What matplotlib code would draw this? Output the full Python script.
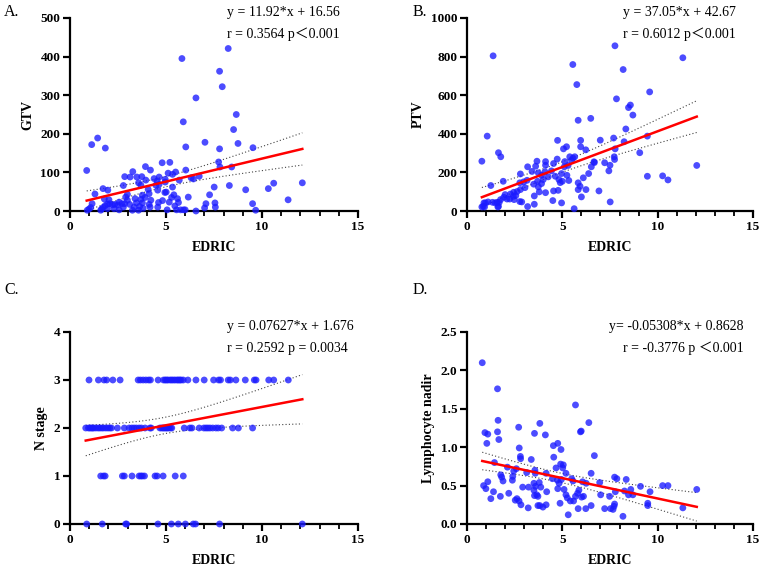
import numpy as np
import matplotlib
matplotlib.use("Agg")
from matplotlib import pyplot as plt
from matplotlib.ticker import MultipleLocator, FormatStrFormatter

plt.rcParams['font.family'] = ['Liberation Serif', 'Noto Sans CJK SC', 'DejaVu Sans']

# ---- panel A: EDRIC vs GTV
gtv_x = [8.24, 5.83, 7.79, 7.93, 6.56, 8.66, 5.90, 8.52, 1.44, 1.13, 1.84, 6.03, 7.03, 7.79, 8.75, 9.53,
         0.87, 7.74, 7.81, 8.42, 4.80, 5.20, 3.93, 4.19, 3.27, 5.11, 5.34, 5.50, 6.03, 2.85, 3.13, 3.48,
         3.74, 3.57, 3.69, 4.54, 4.64, 4.96, 4.96, 6.31, 6.43, 6.73, 2.78, 4.07, 1.97, 1.72, 1.30, 2.99,
         1.79, 3.77, 3.69, 4.21, 5.01, 4.94, 5.41, 5.29, 6.16, 5.65, 7.27, 7.51, 8.30, 9.15, 10.33, 10.61,
         12.10, 11.36, 9.51, 9.67, 7.55, 7.57, 7.01, 6.56, 5.91, 5.76, 6.00, 5.46, 5.55, 5.06, 4.82, 4.61,
         4.57, 4.17, 3.77, 3.63, 3.81, 3.57, 3.25, 2.85, 2.78, 2.70, 2.56, 2.49, 2.33, 2.21, 2.07, 1.95,
         1.83, 1.72, 1.65, 1.60, 1.15, 1.08, 0.99, 0.90, 4.47, 4.57, 3.39, 3.91, 4.12, 3.46, 2.99, 3.11,
         2.03, 2.30, 2.56, 5.17, 5.60, 7.08, 4.64, 4.38, 3.95, 5.69, 2.90, 1.95, 3.34, 4.12, 5.34]
gtv_y = [421, 395, 362, 322, 293, 250, 231, 211, 189, 172, 163, 166, 178, 161, 175, 164,
         105, 127, 114, 114, 125, 126, 115, 106, 102, 98, 95, 101, 106, 89, 88, 88,
         89, 73, 67, 78, 69, 82, 75, 86, 83, 90, 66, 56, 54, 58, 44, 43,
         31, 41, 30, 28, 49, 48, 42, 35, 36, 22, 42, 62, 66, 55, 58, 72,
         73, 29, 19, 2, 21, 10, 8, 0, 3, 3, 3, 13, 3, 3, 27, 22,
         10, 10, 21, 12, 7, 2, 2, 19, 10, 19, 23, 16, 17, 16, 19, 18,
         14, 9, 5, 2, 19, 9, 5, 2, 67, 54, 32, 35, 17, 21, 28, 17,
         29, 6, 3, 23, 32, 19, 88, 84, 80, 80, 36, 6, 10, 45, 62]

# ---- panel B: EDRIC vs PTV
ptv_x = [1.37, 7.76, 11.32, 5.55, 8.19, 5.76, 9.58, 7.84, 8.57, 8.47, 8.70, 5.83, 6.49, 1.06, 8.33, 9.46,
         0.78, 1.65, 1.77, 1.25, 1.90, 4.75, 5.96, 6.99, 7.69, 8.24, 7.77, 5.22, 5.06, 6.23, 5.96, 9.06,
         6.68, 7.22, 7.72, 7.74, 7.50, 7.44, 9.46, 10.26, 10.54, 12.05, 6.92, 7.51, 5.62, 4.96, 4.50, 4.54,
         4.78, 4.12, 3.53, 3.53, 3.18, 6.24, 5.93, 5.83, 6.10, 6.38, 6.52, 6.66, 5.48, 5.65, 5.39, 5.13,
         4.73, 4.54, 4.12, 4.12, 3.67, 3.60, 3.18, 3.41, 2.80, 2.97, 2.77, 3.15, 3.50, 3.70, 3.74, 3.79,
         3.74, 3.91, 4.09, 4.43, 4.63, 4.82, 4.89, 5.00, 5.24, 5.34, 5.10, 5.30, 5.56, 2.80, 2.63, 2.56,
         2.47, 2.24, 2.10, 1.93, 1.76, 1.69, 1.58, 1.48, 1.34, 1.65, 1.62, 0.97, 0.89, 0.85, 0.78, 0.92,
         1.10, 2.28, 2.45, 2.87, 2.77, 3.04, 2.43, 2.00, 4.26, 3.91, 4.00, 4.96, 6.00, 5.83]
ptv_y = [804, 856, 794, 759, 733, 655, 617, 581, 549, 536, 497, 470, 480, 388, 425, 388,
         258, 302, 281, 132, 154, 366, 366, 367, 378, 359, 322, 333, 322, 317, 333, 302,
         251, 250, 281, 267, 237, 208, 180, 182, 161, 236, 104, 47, 12, 42, 54, 104,
         107, 95, 78, 35, 23, 111, 128, 146, 172, 194, 229, 255, 263, 281, 281, 256,
         269, 246, 256, 237, 258, 232, 229, 205, 192, 151, 146, 159, 139, 154, 125, 99,
         198, 185, 203, 208, 180, 163, 147, 154, 185, 158, 229, 236, 274, 111, 101, 80,
         59, 62, 62, 71, 59, 45, 45, 42, 45, 24, 21, 42, 42, 24, 21, 21,
         47, 88, 97, 47, 49, 121, 76, 85, 177, 142, 163, 194, 73, 111]

# ---- panel C: EDRIC vs N stage
n_x = [0.99, 1.48, 1.77, 1.91, 2.23, 2.61, 3.55, 3.67, 3.81, 3.95, 4.09, 4.19, 4.59, 4.87, 4.96, 5.03,
       5.11, 5.22, 5.30, 5.39, 5.48, 5.58, 5.65, 5.72, 5.79, 5.90, 6.14, 6.56, 6.99, 7.48, 7.74, 7.84,
       8.24, 8.35, 8.64, 9.13, 9.60, 9.69, 10.35, 10.61, 11.37,
       0.82, 0.96, 1.03, 1.11, 1.17, 1.23, 1.34, 1.46, 1.55, 1.65, 1.74, 1.86, 1.97, 2.07, 2.16, 2.47,
       2.83, 3.08, 3.22, 3.34, 3.46, 3.60, 3.72, 3.91, 4.16, 4.23, 4.68, 4.77, 4.85, 4.92, 4.99, 5.06,
       5.13, 5.23, 5.30, 5.95, 6.24, 6.35, 6.73, 6.97, 7.08, 7.18, 7.29, 7.43, 7.60, 7.72, 7.90, 8.47,
       8.77, 9.51,
       1.60, 1.74, 1.83, 2.73, 2.83, 3.23, 3.60, 3.69, 3.77, 3.88, 4.43, 4.54, 4.85, 5.48, 5.90,
       0.87, 1.68, 2.90, 2.95, 4.58, 5.28, 5.64, 6.01, 6.42, 6.54, 7.79, 12.10]
n_y = [3] * 41 + [2] * 50 + [1] * 15 + [0] * 12

# ---- panel D: EDRIC vs lymphocyte nadir
lym_x = [0.80, 1.60, 5.69, 1.63, 3.82, 6.39, 2.71, 0.94, 1.09, 1.60, 3.54, 4.11, 5.95, 5.99, 1.04, 1.67,
         4.53, 4.76, 4.93, 2.74, 2.80, 2.81, 4.55, 6.68, 1.44, 2.12, 2.59, 2.45, 3.37, 3.56, 3.58, 3.13,
         4.67, 4.91, 5.05, 5.02, 5.19, 4.15, 4.48, 4.74, 4.95, 5.49, 5.56, 6.06, 6.51, 6.25, 1.77, 1.82,
         1.89, 2.38, 2.40, 3.79, 3.51, 3.59, 3.23, 2.92, 0.87, 0.99, 1.09, 1.39, 2.19, 1.75, 1.25, 2.62,
         2.73, 2.53, 3.51, 3.87, 4.18, 4.76, 4.83, 5.09, 5.19, 5.26, 5.42, 5.59, 5.69, 5.87, 6.01, 5.80,
         6.11, 3.66, 3.72, 3.54, 2.83, 3.21, 3.72, 3.82, 3.98, 4.15, 4.88, 5.31, 5.83, 6.23, 6.51,
         7.74, 7.86, 8.35, 6.96, 9.10, 8.26, 8.59, 7.78, 9.60, 10.26, 10.54, 12.05, 7.01, 7.48, 8.47, 8.70,
         9.48, 9.48, 7.74, 7.71, 7.22, 7.53, 7.66, 8.18, 11.32]
lym_y = [2.10, 1.76, 1.55, 1.35, 1.31, 1.32, 1.26, 1.19, 1.17, 1.20, 1.18, 1.16, 1.20, 1.21, 1.05, 1.10,
         1.02, 1.05, 0.97, 0.99, 0.88, 0.85, 0.87, 0.89, 0.80, 0.74, 0.72, 0.69, 0.84, 0.70, 0.66, 0.67,
         0.73, 0.78, 0.77, 0.73, 0.66, 0.66, 0.59, 0.57, 0.58, 0.59, 0.56, 0.55, 0.66, 0.53, 0.64, 0.61,
         0.56, 0.57, 0.62, 0.54, 0.53, 0.49, 0.48, 0.48, 0.50, 0.46, 0.55, 0.42, 0.40, 0.36, 0.33, 0.33,
         0.30, 0.31, 0.44, 0.48, 0.42, 0.46, 0.53, 0.45, 0.38, 0.34, 0.30, 0.30, 0.36, 0.44, 0.35, 0.40,
         0.36, 0.38, 0.36, 0.37, 0.25, 0.21, 0.24, 0.24, 0.22, 0.25, 0.27, 0.12, 0.20, 0.20, 0.24,
         0.61, 0.59, 0.58, 0.54, 0.49, 0.43, 0.45, 0.42, 0.42, 0.50, 0.50, 0.45, 0.38, 0.36, 0.38, 0.38,
         0.27, 0.24, 0.26, 0.23, 0.20, 0.20, 0.19, 0.10, 0.21]

# reported fits (slope, intercept) and annotation text
panels = [
    dict(x=gtv_x, y=gtv_y, fit=(11.92, 16.56), ylabel="GTV", ymax=500, ystep=100, fmt="%d",
         tag="A.", lines=["y = 11.92*x + 16.56", "r = 0.3564 p\uff1c0.001"], ha="left"),
    dict(x=ptv_x, y=ptv_y, fit=(37.05, 42.67), ylabel="PTV", ymax=1000, ystep=200, fmt="%d",
         tag="B.", lines=["y = 37.05*x + 42.67", "r = 0.6012 p\uff1c0.001"], ha="left"),
    dict(x=n_x, y=n_y, fit=(0.07627, 1.676), ylabel="N stage", ymax=4, ystep=1, fmt="%d",
         tag="C.", lines=["y = 0.07627*x + 1.676", "r = 0.2592 p = 0.0034"], ha="left"),
    dict(x=lym_x, y=lym_y, fit=(-0.05308, 0.8628), ylabel="Lymphocyte nadir", ymax=2.5, ystep=0.5,
         fmt="%.1f", tag="D.", lines=["y= -0.05308*x + 0.8628", "r = -0.3776 p \uff1c0.001"], ha="right"),
]

W, H = 761, 569
fig = plt.figure(figsize=(W / 100, H / 100), dpi=100)

boxes = [(70, 18, 358, 211), (467, 18, 753, 211), (70, 332, 358, 524), (467, 332, 753, 524)]
tag_pos = [(4, 12), (413, 12), (4, 290), (413, 290)]

for p, (l, t, r, b), (tx, ty) in zip(panels, boxes, tag_pos):
    ax = fig.add_axes([l / W, 1 - b / H, (r - l) / W, (b - t) / H])
    x = np.array(p["x"], float)
    y = np.array(p["y"], float)
    ax.scatter(x, y, s=24, color="#1a1aff", alpha=0.78, edgecolors="none", zorder=5, clip_on=False)

    k, c = p["fit"]
    xs = np.linspace(x.min(), x.max(), 100)
    yf = k * xs + c
    # 95% confidence band of the fitted line
    n = len(x)
    res = y - (k * x + c)
    s = np.sqrt(np.sum(res ** 2) / (n - 2))
    sxx = np.sum((x - x.mean()) ** 2)
    half = 1.98 * s * np.sqrt(1 / n + (xs - x.mean()) ** 2 / sxx)
    ax.plot(xs, yf, color="red", lw=1.8, zorder=6)
    ax.plot(xs, yf + half, color="#444444", lw=0.8, ls=(0, (1, 2)), zorder=4)
    ax.plot(xs, yf - half, color="#444444", lw=0.8, ls=(0, (1, 2)), zorder=4)

    ax.set_xlim(0, 15)
    ax.set_ylim(0, p["ymax"])
    ax.xaxis.set_major_locator(MultipleLocator(5))
    ax.xaxis.set_minor_locator(MultipleLocator(1))
    ax.yaxis.set_major_locator(MultipleLocator(p["ystep"]))
    ax.yaxis.set_major_formatter(FormatStrFormatter(p["fmt"]))
    for sp in ["top", "right"]:
        ax.spines[sp].set_visible(False)
    for sp in ["left", "bottom"]:
        ax.spines[sp].set_linewidth(1.6)
    ax.tick_params(which="major", length=5, width=1.6, labelsize=9.5, pad=2)
    ax.tick_params(which="minor", length=3.5, width=1.3)
    for lab in ax.get_xticklabels() + ax.get_yticklabels():
        lab.set_fontweight("bold")
    ax.set_xlabel("EDRIC", fontsize=10, fontweight="bold", labelpad=6)
    ax.set_ylabel(p["ylabel"], fontsize=10, fontweight="bold", labelpad=4)

    if p["ha"] == "left":
        ax.text(0.545, 1.03, p["lines"][0], transform=ax.transAxes, fontsize=10, ha="left", va="center")
        ax.text(0.545, 0.915, p["lines"][1], transform=ax.transAxes, fontsize=10, ha="left", va="center")
    else:
        ax.text(0.968, 1.03, p["lines"][0], transform=ax.transAxes, fontsize=10, ha="right", va="center")
        ax.text(0.968, 0.915, p["lines"][1], transform=ax.transAxes, fontsize=10, ha="right", va="center")

    fig.text(tx / W, 1 - ty / H, p["tag"], fontsize=11.5, ha="left", va="center")

fig.savefig("out.png", dpi=100)
